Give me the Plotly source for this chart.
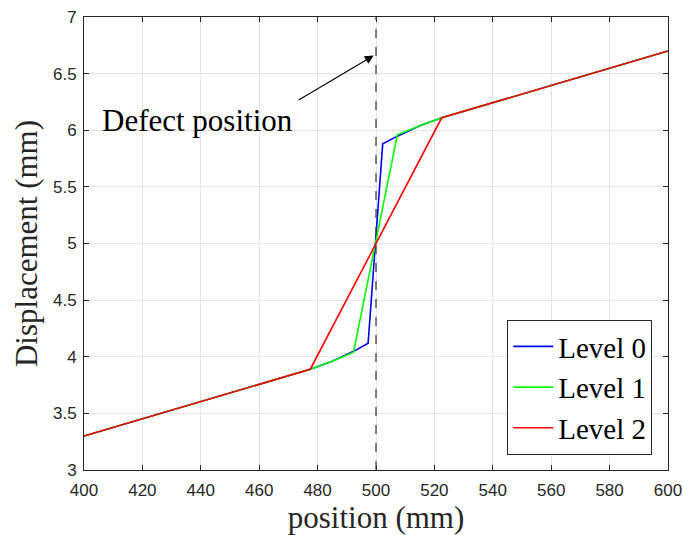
import plotly.graph_objects as go

# Displacement profiles across the defect for three refinement levels
level0_x = [400, 477.5, 485, 492.5, 497.3, 502.3, 507.5, 515, 522.5, 600]
level0_y = [3.30, 3.89, 3.96, 4.05, 4.12, 5.88, 5.95, 6.04, 6.11, 6.70]

level1_x = [400, 477.5, 485, 492.3, 507.3, 515, 522.5, 600]
level1_y = [3.30, 3.89, 3.96, 4.04, 5.96, 6.04, 6.11, 6.70]

level2_x = [400, 477.5, 522.5, 600]
level2_y = [3.30, 3.89, 6.11, 6.70]

series_names = ["Level 0", "Level 1", "Level 2"]
series_colors = ["#0000FF", "#00FF00", "#FF0000"]

defect_x = 500
x_ticks = list(range(400, 601, 20))
y_ticks = [3, 3.5, 4, 4.5, 5, 5.5, 6, 6.5, 7]

serif = "Liberation Serif, Times New Roman, serif"
sans = "Liberation Sans, Arial, sans-serif"
ink = "#262626"

fig = go.Figure()
for xs, ys, name, color in zip(
    [level0_x, level1_x, level2_x],
    [level0_y, level1_y, level2_y],
    series_names,
    series_colors,
):
    fig.add_trace(
        go.Scatter(x=xs, y=ys, mode="lines", name=name,
                   line=dict(color=color, width=1.6))
    )

# vertical dashed marker at the defect
fig.add_shape(type="line", xref="x", yref="paper", x0=defect_x, x1=defect_x,
              y0=0, y1=1, line=dict(color="#404040", width=1.3, dash="dash"))

# arrow pointing at the dashed line
fig.add_annotation(x=499.2, y=6.66, ax=473, ay=6.26, xref="x", yref="y",
                   axref="x", ayref="y", text="", showarrow=True,
                   arrowhead=2, arrowsize=1.6, arrowwidth=1.1, arrowcolor="black")
fig.add_annotation(x=439, y=6.09, xref="x", yref="y", text="Defect position",
                   showarrow=False, font=dict(family=serif, size=31, color="black"))

axis_common = dict(
    showline=True, linecolor=ink, linewidth=1, mirror="ticks",
    ticks="inside", ticklen=5, tickcolor=ink,
    showgrid=True, gridcolor="#E3E3E3", gridwidth=1, zeroline=False,
    tickfont=dict(family=sans, size=17, color=ink),
    automargin=False,
)

fig.update_xaxes(range=[400, 600], tickvals=x_ticks, ticklabelstandoff=5,
                 title=dict(text="position (mm)", standoff=2,
                            font=dict(family=serif, size=31, color=ink)),
                 **axis_common)
fig.update_yaxes(range=[3, 7], tickvals=y_ticks, ticklabelstandoff=3,
                 ticktext=[f"{v:g}" for v in y_ticks],
                 title=dict(text="Displacement (mm)", standoff=6,
                            font=dict(family=serif, size=31, color=ink)),
                 **axis_common)

fig.update_layout(
    width=683, height=535,
    margin=dict(l=84, r=15, t=17, b=65, autoexpand=False),
    paper_bgcolor="white", plot_bgcolor="white",
    showlegend=True,
    legend=dict(x=0.973, y=0.033, xanchor="right", yanchor="bottom",
                bgcolor="white", bordercolor=ink, borderwidth=1,
                font=dict(family=serif, size=29, color="black"),
                tracegroupgap=0, itemwidth=40, entrywidth=150,
                entrywidthmode="pixels"),
)

fig.write_html("out.html")
